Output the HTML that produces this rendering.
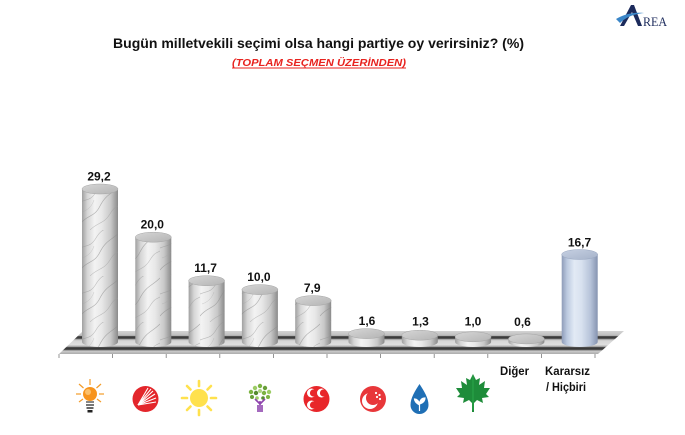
<!DOCTYPE html>
<html><head><meta charset="utf-8"><style>
html,body{margin:0;padding:0;background:#fff;}
svg{display:block;}
.s{font-family:"Liberation Sans",Arial,sans-serif;}
</style></head><body>
<svg width="685" height="435" viewBox="0 0 685 435" xmlns="http://www.w3.org/2000/svg">
<defs>
<linearGradient id="body" x1="0" y1="0" x2="1" y2="0">
<stop offset="0" stop-color="#a0a0a0"/><stop offset="0.15" stop-color="#d6d6d6"/><stop offset="0.35" stop-color="#f3f3f3"/><stop offset="0.55" stop-color="#e8e8e8"/><stop offset="0.8" stop-color="#c8c8c8"/><stop offset="1" stop-color="#8a8a8a"/>
</linearGradient>
<linearGradient id="top" x1="0" y1="0" x2="1" y2="1">
<stop offset="0" stop-color="#d6d6d6"/><stop offset="1" stop-color="#b4b4b4"/>
</linearGradient>
<linearGradient id="bodyB" x1="0" y1="0" x2="1" y2="0">
<stop offset="0" stop-color="#8e9cb8"/><stop offset="0.15" stop-color="#bccae0"/><stop offset="0.35" stop-color="#e2eaf5"/><stop offset="0.55" stop-color="#d8e1ef"/><stop offset="0.8" stop-color="#b6c3d9"/><stop offset="1" stop-color="#8593b0"/>
</linearGradient>
<linearGradient id="topB" x1="0" y1="0" x2="1" y2="1">
<stop offset="0" stop-color="#c6d0e2"/><stop offset="1" stop-color="#a6b3ca"/>
</linearGradient>
<pattern id="marble" patternUnits="userSpaceOnUse" width="40" height="46">
<path d="M0,40 C8,30 14,34 20,22 S32,10 40,2" stroke="#8a8a8a" stroke-width="0.7" fill="none" opacity="0.6"/>
<path d="M-4,20 C6,14 10,18 16,8 S26,0 30,-4" stroke="#909090" stroke-width="0.6" fill="none" opacity="0.55"/>
<path d="M10,46 C18,38 24,40 30,30 S38,24 44,18" stroke="#989898" stroke-width="0.6" fill="none" opacity="0.55"/>
<path d="M2,28 C8,26 12,22 14,16" stroke="#a0a0a0" stroke-width="0.5" fill="none" opacity="0.5"/>
</pattern>
<linearGradient id="floor" gradientUnits="userSpaceOnUse" x1="0" y1="331" x2="0" y2="354">
<stop offset="0" stop-color="#d4d4d4"/><stop offset="0.2" stop-color="#bdbdbd"/><stop offset="0.24" stop-color="#3c3c3c"/><stop offset="0.32" stop-color="#3c3c3c"/><stop offset="0.35" stop-color="#9a9a9a"/><stop offset="0.42" stop-color="#d6d6d6"/><stop offset="0.6" stop-color="#dedede"/><stop offset="0.68" stop-color="#a6a6a6"/><stop offset="0.72" stop-color="#3a3a3a"/><stop offset="0.8" stop-color="#3a3a3a"/><stop offset="0.83" stop-color="#8a8a8a"/><stop offset="0.88" stop-color="#c8c8c8"/><stop offset="1" stop-color="#acacac"/>
</linearGradient>
</defs>

<!-- Title -->
<text class="s" x="318.5" y="48" text-anchor="middle" font-size="13.5" font-weight="bold" fill="#111" textLength="411" lengthAdjust="spacingAndGlyphs">Bugün milletvekili seçimi olsa hangi partiye oy verirsiniz? (%)</text>
<text class="s" x="319" y="66" text-anchor="middle" font-size="10.5" font-weight="bold" font-style="italic" fill="#e8231f" textLength="174" lengthAdjust="spacingAndGlyphs">(TOPLAM SEÇMEN ÜZERİNDEN)</text>
<line x1="232" y1="68" x2="406" y2="68" stroke="#e8231f" stroke-width="0.9"/>

<!-- Logo -->
<path d="M620,26 L631,5 L634,5 L642,26 L638,26 L632,12 L624,26 Z" fill="#1c2b5c"/>
<path d="M616,19 C624,14 634,12 644,13 C634,14 626,17 620,23 Z" fill="#3a86c8"/>
<text x="643" y="26" style="font-family:'Liberation Serif',serif" font-size="13" fill="#1c2b5c" textLength="24" lengthAdjust="spacingAndGlyphs">REA</text>

<!-- Floor -->
<polygon points="83,331 624,331 598,354 59,354" fill="url(#floor)"/>
<g stroke="#7a7a7a" stroke-width="0.8">
<line x1="59" y1="354" x2="59" y2="358"/><line x1="112.6" y1="354" x2="112.6" y2="358"/><line x1="166.2" y1="354" x2="166.2" y2="358"/><line x1="219.8" y1="354" x2="219.8" y2="358"/><line x1="273.4" y1="354" x2="273.4" y2="358"/><line x1="327" y1="354" x2="327" y2="358"/><line x1="380.6" y1="354" x2="380.6" y2="358"/><line x1="434.2" y1="354" x2="434.2" y2="358"/><line x1="487.8" y1="354" x2="487.8" y2="358"/><line x1="541.4" y1="354" x2="541.4" y2="358"/><line x1="595" y1="354" x2="595" y2="358"/>
</g>

<!-- Bars -->
<g>
<path d="M82,189 L82,342 A18,5 0 0 0 118,342 L118,189 Z" fill="url(#body)"/><path d="M82,189 L82,342 A18,5 0 0 0 118,342 L118,189 Z" fill="url(#marble)"/><ellipse cx="100" cy="189" rx="18" ry="5" fill="url(#top)" stroke="#a5a5a5" stroke-width="0.5"/>
<path d="M135.3,237.2 L135.3,342 A18,5 0 0 0 171.3,342 L171.3,237.2 Z" fill="url(#body)"/><path d="M135.3,237.2 L135.3,342 A18,5 0 0 0 171.3,342 L171.3,237.2 Z" fill="url(#marble)"/><ellipse cx="153.3" cy="237.2" rx="18" ry="5" fill="url(#top)" stroke="#a5a5a5" stroke-width="0.5"/>
<path d="M188.6,280.7 L188.6,342 A18,5 0 0 0 224.6,342 L224.6,280.7 Z" fill="url(#body)"/><path d="M188.6,280.7 L188.6,342 A18,5 0 0 0 224.6,342 L224.6,280.7 Z" fill="url(#marble)"/><ellipse cx="206.6" cy="280.7" rx="18" ry="5" fill="url(#top)" stroke="#a5a5a5" stroke-width="0.5"/>
<path d="M241.9,289.6 L241.9,342 A18,5 0 0 0 277.9,342 L277.9,289.6 Z" fill="url(#body)"/><path d="M241.9,289.6 L241.9,342 A18,5 0 0 0 277.9,342 L277.9,289.6 Z" fill="url(#marble)"/><ellipse cx="259.9" cy="289.6" rx="18" ry="5" fill="url(#top)" stroke="#a5a5a5" stroke-width="0.5"/>
<path d="M295.2,300.6 L295.2,342 A18,5 0 0 0 331.2,342 L331.2,300.6 Z" fill="url(#body)"/><path d="M295.2,300.6 L295.2,342 A18,5 0 0 0 331.2,342 L331.2,300.6 Z" fill="url(#marble)"/><ellipse cx="313.2" cy="300.6" rx="18" ry="5" fill="url(#top)" stroke="#a5a5a5" stroke-width="0.5"/>
<path d="M348.5,333.6 L348.5,342 A18,5 0 0 0 384.5,342 L384.5,333.6 Z" fill="url(#body)"/><ellipse cx="366.5" cy="333.6" rx="18" ry="5" fill="url(#top)" stroke="#a5a5a5" stroke-width="0.5"/>
<path d="M401.8,335.2 L401.8,342 A18,5 0 0 0 437.8,342 L437.8,335.2 Z" fill="url(#body)"/><ellipse cx="419.8" cy="335.2" rx="18" ry="5" fill="url(#top)" stroke="#a5a5a5" stroke-width="0.5"/>
<path d="M455.1,336.8 L455.1,342 A18,5 0 0 0 491.1,342 L491.1,336.8 Z" fill="url(#body)"/><ellipse cx="473.1" cy="336.8" rx="18" ry="5" fill="url(#top)" stroke="#a5a5a5" stroke-width="0.5"/>
<path d="M508.4,338.9 L508.4,342 A18,5 0 0 0 544.4,342 L544.4,338.9 Z" fill="url(#body)"/><ellipse cx="526.4" cy="338.9" rx="18" ry="5" fill="url(#top)" stroke="#a5a5a5" stroke-width="0.5"/>
<path d="M561.7,254.5 L561.7,342 A18,5 0 0 0 597.7,342 L597.7,254.5 Z" fill="url(#bodyB)"/><ellipse cx="579.7" cy="254.5" rx="18" ry="5" fill="url(#topB)" stroke="#98a6c0" stroke-width="0.5"/>
</g>

<!-- Value labels -->
<g class="s" font-size="12" font-weight="bold" fill="#111" text-anchor="middle">
<text x="99" y="180.5">29,2</text>
<text x="152.3" y="228.7">20,0</text>
<text x="205.6" y="272">11,7</text>
<text x="258.9" y="281">10,0</text>
<text x="312.2" y="292">7,9</text>
<text x="367" y="325">1,6</text>
<text x="420.5" y="325.5">1,3</text>
<text x="473" y="325.5">1,0</text>
<text x="522.5" y="326">0,6</text>
<text x="579.5" y="246.5">16,7</text>
</g>

<!-- Category labels -->
<g class="s" font-size="11.5" font-weight="bold" fill="#111">
<text x="500" y="375" textLength="29" lengthAdjust="spacingAndGlyphs">Diğer</text>
<text x="545" y="375" textLength="45" lengthAdjust="spacingAndGlyphs">Kararsız</text>
<text x="546" y="391" textLength="40" lengthAdjust="spacingAndGlyphs">/ Hiçbiri</text>
</g>

<!-- Icons -->
<g stroke="#f39c2a" stroke-width="1.2">
<line x1="90" y1="385" x2="90" y2="379"/><line x1="83.5" y1="388" x2="79" y2="384"/><line x1="96.5" y1="388" x2="101" y2="384"/><line x1="81" y1="394" x2="76" y2="394"/><line x1="99" y1="394" x2="104" y2="394"/><line x1="83" y1="399" x2="79" y2="402"/><line x1="97" y1="399" x2="101" y2="402"/>
</g>
<circle cx="90" cy="394" r="7" fill="#f7941d"/>
<circle cx="88" cy="392" r="3" fill="#fbbf6a"/>
<rect x="86" y="401" width="8" height="2" fill="#888"/>
<rect x="86" y="404" width="8" height="2" fill="#777"/>
<rect x="86.5" y="407" width="7" height="2" fill="#666"/>
<rect x="87.5" y="410" width="5" height="2.5" fill="#222"/>
<circle cx="145.5" cy="399" r="13" fill="#e3262b"/>
<g stroke="#fff" stroke-width="1.1">
<line x1="138" y1="405" x2="153" y2="391"/><line x1="138" y1="405" x2="155" y2="394"/><line x1="138" y1="405" x2="156" y2="398"/><line x1="138" y1="405" x2="151" y2="389"/><line x1="138" y1="405" x2="156" y2="402"/><line x1="138" y1="405" x2="148" y2="388"/>
</g>
<g stroke="#ffe14d" stroke-width="2.6" stroke-linecap="round">
<line x1="199" y1="386" x2="199" y2="381"/><line x1="199" y1="410" x2="199" y2="415"/><line x1="187" y1="398" x2="182" y2="398"/><line x1="211" y1="398" x2="216" y2="398"/><line x1="190.5" y1="389.5" x2="187" y2="386"/><line x1="207.5" y1="389.5" x2="211" y2="386"/><line x1="190.5" y1="406.5" x2="187" y2="410"/><line x1="207.5" y1="406.5" x2="211" y2="410"/>
</g>
<circle cx="199" cy="398" r="9" fill="#ffe14d"/>
<g>
<circle cx="260" cy="386" r="2.2" fill="#7cb342"/><circle cx="255" cy="388" r="2.2" fill="#9ccc65"/><circle cx="265" cy="388" r="2.2" fill="#689f38"/><circle cx="251" cy="392" r="2.2" fill="#7cb342"/><circle cx="269" cy="392" r="2.2" fill="#9ccc65"/><circle cx="256" cy="393" r="2.2" fill="#558b2f"/><circle cx="264" cy="393" r="2.2" fill="#7cb342"/><circle cx="260" cy="391" r="2" fill="#aed581"/><circle cx="252" cy="397" r="2" fill="#689f38"/><circle cx="268" cy="397" r="2" fill="#7cb342"/><circle cx="257" cy="398" r="1.8" fill="#9ccc65"/><circle cx="263" cy="398" r="1.8" fill="#558b2f"/>
<path d="M260,412 L260,401 M260,404 L255,399 M260,404 L265,399 M258,412 L258,405 M262,412 L262,405" stroke="#8e44ad" stroke-width="1.6" fill="none"/>
</g>
<circle cx="316.5" cy="399" r="13" fill="#e8262a"/>
<circle cx="311.5" cy="393" r="4.5" fill="#fff"/><circle cx="313.5" cy="393" r="3.6" fill="#e8262a"/>
<circle cx="321.5" cy="393" r="4.5" fill="#fff"/><circle cx="323.5" cy="393" r="3.6" fill="#e8262a"/>
<circle cx="311.5" cy="405" r="4.5" fill="#fff"/><circle cx="313.5" cy="405" r="3.6" fill="#e8262a"/>
<circle cx="373" cy="399" r="13" fill="#e8373a"/>
<circle cx="370" cy="401" r="8" fill="#fff"/><circle cx="373" cy="398" r="7" fill="#e8373a"/>
<g fill="#fff"><circle cx="376" cy="393" r="1.1"/><circle cx="379.5" cy="395" r="1.1"/><circle cx="380" cy="399" r="1.1"/><circle cx="377" cy="397" r="1.1"/></g>
<path d="M419.5,384 C424,391 428.5,398 428.5,405 A9,9 0 0 1 410.5,405 C410.5,398 415,391 419.5,384 Z" fill="#1f6fb5"/>
<path d="M419.5,411 L419.5,403 M419.5,405 C416,403 414.5,401 414.5,399 C417,399 419,401 419.5,404 M419.5,404 C420,400 422,398 425,398 C425,401 423,403 419.5,404" stroke="#fff" stroke-width="1.2" fill="#fff"/>
<polygon transform="translate(473,393)" points="0,-19 3,-13 7,-15 6,-8 12,-12 11,-5 17,-5 13,1 16,4 9,5 10,10 4,7 1,10 1,19 -1,19 -1,10 -4,7 -10,10 -9,5 -16,4 -13,1 -17,-5 -11,-5 -12,-12 -6,-8 -7,-15 -3,-13" fill="#1e8c3a"/>
<path d="M473,376 L473,410" stroke="#2fae4e" stroke-width="0.8"/>
</svg>
</body></html>
